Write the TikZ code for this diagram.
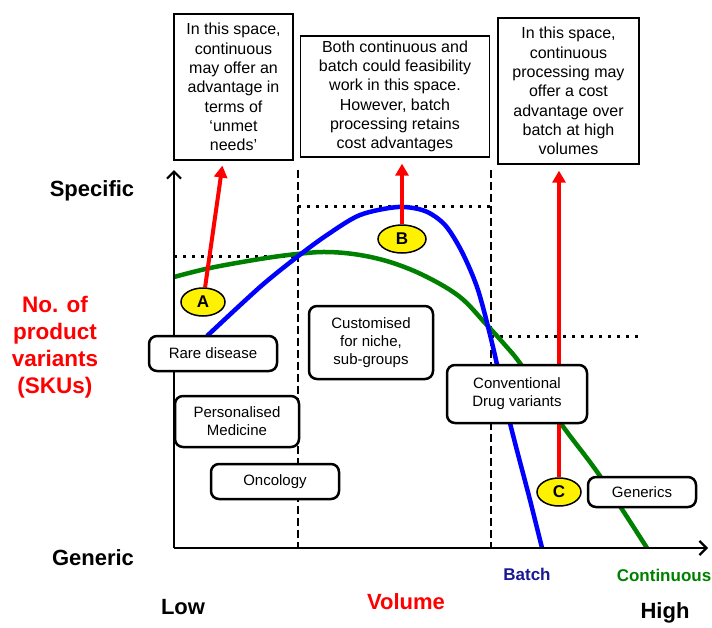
\documentclass[tikz,border=0pt]{standalone}
\usepackage{fontspec}
\setmainfont{Liberation Sans}
\usetikzlibrary{arrows.meta,shapes.geometric,backgrounds}

\definecolor{batchnavy}{RGB}{25,25,150}

\begin{document}
\begin{tikzpicture}
	[
	x = {(1pt, 0pt)},
	y = {(0pt, -1pt)},
	axisline/.style = {color = black, line width = 2.2pt, -{Straight Barb[length = 7pt, width = 14pt]}},
	divider/.style = {color = black, line width = 2.2pt, dash pattern = on 8pt off 4pt},
	level/.style = {color = black, line width = 3pt, dash pattern = on 3pt off 6pt},
	batchcurve/.style = {color = blue, line width = 4.5pt},
	contcurve/.style = {color = green!50!black, line width = 4.5pt},
	redarrow/.style = {color = red, line width = 4pt, -{Triangle[length = 12pt, width = 13pt]}},
	spacebox/.style = {draw = black, line width = 1.3pt, fill = white, align = center, inner sep = 0pt, font = \fontsize{16}{19.3}\selectfont},
	marketbox/.style = {draw = black, line width = 2.5pt, fill = white, rounded corners = 8pt, align = center, inner sep = 0pt, font = \fontsize{15}{18}\selectfont},
	pointmark/.style = {ellipse, draw = black, line width = 1.5pt, fill = yellow, inner sep = 0pt, minimum width = 44pt, minimum height = 28pt, font = \fontsize{17}{20}\selectfont\bfseries},
	axislabel/.style = {font = \fontsize{22}{26}\selectfont\bfseries, inner sep = 0pt},
	curvelabel/.style = {font = \fontsize{17}{20}\selectfont\bfseries, inner sep = 0pt}]
	
	\useasboundingbox (0, 0) rectangle (712, 627);
	
	\coordinate (origin) at (174, 548);
	\coordinate (ytip) at (174, 170);
	\coordinate (xtip) at (708, 548);
	\coordinate (lowtop) at (298, 170);
	\coordinate (lowbottom) at (298, 548);
	\coordinate (hightop) at (491, 170);
	\coordinate (highbottom) at (491, 548);
	
	%% Boxes above the chart
	
	\node[spacebox, minimum width = 119pt, minimum height = 146pt] (spacelow) at (233.5, 87) {In this space,\\continuous\\may offer an\\advantage in\\terms of\\‘unmet\\needs’};
	\node[spacebox, minimum width = 189pt, minimum height = 121pt] (spacemid) at (395, 96.5) {Both continuous and\\batch could feasibility\\work in this space.\\However, batch\\processing retains\\cost advantages};
	\node[spacebox, minimum width = 141pt, minimum height = 146pt] (spacehigh) at (568.5, 91) {In this space,\\continuous\\processing may\\offer a cost\\advantage over\\batch at high\\volumes};
	
	%% Market segments
	
	\node[marketbox, minimum width = 128pt, minimum height = 35pt] (rare) at (213, 353.5) {Rare disease};
	\node[marketbox, minimum width = 124pt, minimum height = 51pt] (personal) at (237, 421.5) {Personalised\\Medicine};
	\node[marketbox, minimum width = 128pt, minimum height = 35pt] (onco) at (275, 481.5) {Oncology};
	\node[marketbox, minimum width = 124pt, minimum height = 73pt] (custom) at (371, 342.5) {Customised\\for niche,\\sub-groups};
	\node[marketbox, minimum width = 140pt, minimum height = 58pt] (conv) at (517, 394) {Conventional\\Drug variants};
	\node[marketbox, minimum width = 108pt, minimum height = 30pt] (generics) at (642, 492) {Generics};
	
	\node[pointmark] (A) at (203, 302) {A};
	\node[pointmark, minimum width = 48pt] (B) at (402, 239) {B};
	\node[pointmark] (C) at (559, 492) {C};
	
	%% Axis labels
	
	\node[axislabel] (specific) at (92, 191) {Specific};
	\node[axislabel] (generic) at (93, 558) {Generic};
	\node[axislabel, text = red, align = center, font = \fontsize{22.5}{27}\selectfont\bfseries] (skus) at (55, 347) {No. of\\product\\variants\\(SKUs)};
	\node[axislabel] (low) at (183, 607) {Low};
	\node[axislabel, text = red] (volume) at (406, 602) {Volume};
	\node[axislabel] (high) at (665, 613) {High};
	\node[curvelabel, text = batchnavy] (batch) at (527, 574) {Batch};
	\node[curvelabel, text = green!50!black] (cont) at (664, 575) {Continuous};
	
	\begin{scope}[on background layer]
		
		%% Region dividers and levels
		
		\draw[divider] (lowtop) -- (lowbottom);
		\draw[divider] (hightop) -- (highbottom);
		\draw[level] (174, 256) -- (298, 256);
		\draw[level] (298, 206) -- (491, 206);
		\draw[level] (491, 336) -- (640, 336);
		
		%% Curves
		
		\draw[contcurve] plot[smooth, tension = 0.6] coordinates {(174, 277) (210, 268) (260, 259) (297, 254) (327, 252) (360, 255) (393, 263) (427, 277) (460, 297) (485, 323) (505, 345) (522, 366) (562, 425) (600, 476) (647, 548)};
		\draw[batchcurve] plot[smooth, tension = 0.5] coordinates {(207, 336) (260, 287) (297, 257) (327, 235) (360, 215) (398, 207) (425, 211) (445, 225) (462, 252) (478, 290) (493, 347) (510, 423) (530, 500) (542, 548)};
		
		%% Red arrows
		
		\draw[redarrow, shorten > = 5pt] (A) -- (spacelow);
		\draw[redarrow, shorten > = 6pt] (B.north) -- (B.north |- spacemid.south);
		\draw[redarrow, shorten > = 6pt] (C.north) -- (C.north |- spacehigh.south);
		
		%% Axes
		
		\draw[axisline] (origin) -- (ytip);
		\draw[axisline] (origin) -- (xtip);
	\end{scope}
\end{tikzpicture}
\end{document}
